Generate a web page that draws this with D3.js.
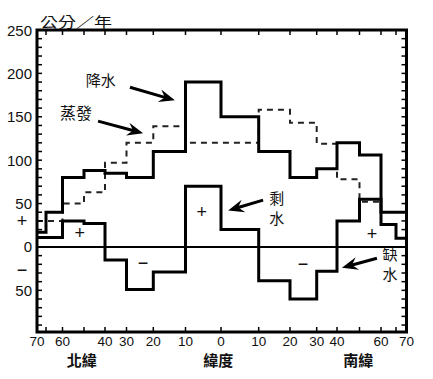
<!DOCTYPE html>
<html>
<head>
<meta charset="utf-8">
<style>
  body { margin: 0; background: #fff; }
  svg { display: block; }
  .num { font-family: "Liberation Sans", Arial, sans-serif; fill: #111; }
  .cjk { font-family: "Noto Sans CJK TC", "Noto Sans CJK JP", sans-serif; fill: #111; }
</style>
</head>
<body>
<svg width="433" height="379"></svg>

<script src="https://d3js.org/d3.v7.min.js"></script>
<script>
    // latitude bin edges, north is positive, south negative
    let edges = [70, 65, 60, 50, 40, 30, 20, 10, 0, -10, -20, -30, -40, -50, -60, -65, -70]

    // cm per year, one value per bin
    let precip = [17, 40, 80, 88, 85, 80, 110, 190, 150, 110, 80, 90, 120, 106, 40, 40]
    let evap = [30, 30, 50, 63, 97, 120, 139, 120, 120, 158, 143, 119, 78, 52, null, null]
    let surplus = [11, 11, 30, 27, -15, -49, -29, 70, 20, -39, -60, -28, 30, 55, 26, 10]

    let latLabels = [70, 60, 40, 30, 20, 10, 0, -10, -20, -30, -40, -60, -70]
    let yLabels = [250, 200, 150, 100, 50, 0, -50]

    let svg = d3.select("svg")

    // the latitude axis in the figure is not even, so a piecewise scale
    let x = d3.scaleLinear()
        .domain(edges)
        .range([37, 46, 62.5, 84, 105, 126.5, 153.3, 185.5, 221, 258.7, 290, 316.7, 337, 359.5, 381, 396, 406.5])

    let y = d3.scaleLinear()
        .domain([-98, 250])
        .range([332, 30])

    let x0 = x(70), x1 = x(-70), yTop = y(250), yBot = y(-98)

    // turn bin values into step points
    function steps(vals) {
        let pts = []
        vals.forEach((v, i) => {
            pts.push({ lat: edges[i], v: v }, { lat: edges[i + 1], v: v })
        })
        return pts
    }

    let line = d3.line()
        .defined(d => d.v != null)
        .x(d => x(d.lat))
        .y(d => y(d.v))

    // zero line
    svg.append("line")
        .attr("x1", x0).attr("x2", x1)
        .attr("y1", y(0)).attr("y2", y(0))
        .style("stroke", "#000")
        .style("stroke-width", 2)

    // evaporation (dashed)
    svg.append("path")
        .attr("d", line(steps(evap)))
        .style("fill", "none")
        .style("stroke", "#222")
        .style("stroke-width", 2)
        .style("stroke-dasharray", "6,5")

    // precipitation and surplus / deficit
    let solid = [precip, surplus]
    svg.append("g")
        .selectAll("path")
        .data(solid)
        .join("path")
        .attr("d", d => line(steps(d)))
        .style("fill", "none")
        .style("stroke", "#000")
        .style("stroke-width", 3)
        .style("stroke-linejoin", "miter")

    // minor ticks on left and right
    let yTicks = d3.range(-90, 250, 10)
    let tickG = svg.append("g").style("stroke", "#000").style("stroke-width", 1.5)
    tickG.selectAll(".yl")
        .data(yTicks)
        .join("line")
        .attr("class", "yl")
        .attr("x1", x0).attr("x2", x0 + 5)
        .attr("y1", d => y(d)).attr("y2", d => y(d))
    tickG.selectAll(".yr")
        .data(yTicks)
        .join("line")
        .attr("class", "yr")
        .attr("x1", x1 - 5).attr("x2", x1)
        .attr("y1", d => y(d)).attr("y2", d => y(d))

    let xTicks = edges.filter(d => Math.abs(d) != 70)
    tickG.selectAll(".xt")
        .data(xTicks)
        .join("line")
        .attr("class", "xt")
        .attr("x1", d => x(d)).attr("x2", d => x(d))
        .attr("y1", yTop).attr("y2", yTop + 5)
    tickG.selectAll(".xb")
        .data(xTicks)
        .join("line")
        .attr("class", "xb")
        .attr("x1", d => x(d)).attr("x2", d => x(d))
        .attr("y1", yBot).attr("y2", yBot - 5)

    // frame
    svg.append("rect")
        .attr("x", x0).attr("y", yTop)
        .attr("width", x1 - x0).attr("height", yBot - yTop)
        .style("fill", "none")
        .style("stroke", "#000")
        .style("stroke-width", 3)

    // y labels
    svg.append("g")
        .selectAll("text")
        .data(yLabels)
        .join("text")
        .attr("class", "num")
        .attr("x", 32)
        .attr("y", d => y(d) + 5.5)
        .attr("text-anchor", "end")
        .attr("font-size", 15)
        .text(d => Math.abs(d))

    let signs = [{ v: 30, t: "+" }, { v: -27, t: "\u2212" }]
    svg.append("g")
        .selectAll("text")
        .data(signs)
        .join("text")
        .attr("class", "num")
        .attr("x", 22)
        .attr("y", d => y(d.v) + 6)
        .attr("text-anchor", "middle")
        .attr("font-size", 18)
        .text(d => d.t)

    // x labels
    svg.append("g")
        .selectAll("text")
        .data(latLabels)
        .join("text")
        .attr("class", "num")
        .attr("x", d => x(d))
        .attr("y", yBot + 14)
        .attr("text-anchor", "middle")
        .attr("font-size", 13.5)
        .text(d => Math.abs(d))

    let zones = [{ lat: 51, t: "北緯" }, { lat: 0.8, t: "緯度" }, { lat: -49.5, t: "南緯" }]
    svg.append("g")
        .selectAll("text")
        .data(zones)
        .join("text")
        .attr("class", "cjk")
        .attr("x", d => x(d.lat))
        .attr("y", yBot + 34)
        .attr("text-anchor", "middle")
        .attr("font-size", 15)
        .attr("font-weight", "bold")
        .text(d => d.t)

    // unit
    svg.append("text")
        .attr("class", "cjk")
        .attr("x", 40)
        .attr("y", 27)
        .attr("font-size", 14)
        .attr("textLength", 72)
        .attr("lengthAdjust", "spacingAndGlyphs")
        .text("公分／年")

    // annotations, in data units
    let notes = [
        { lat: 42, v: 192, t: "降水", s: 15 },
        { lat: 53.7, v: 155, t: "蒸發", s: 16 },
        { lat: -15.8, v: 56, t: "剩", s: 15 },
        { lat: -15.8, v: 33, t: "水", s: 15 },
        { lat: -63, v: -8, t: "缺", s: 15 },
        { lat: -63, v: -31, t: "水", s: 15 }
    ]
    svg.append("g")
        .selectAll("text")
        .data(notes)
        .join("text")
        .attr("class", "cjk")
        .attr("x", d => x(d.lat))
        .attr("y", d => y(d.v) + d.s * 0.38)
        .attr("text-anchor", "middle")
        .attr("font-size", d => d.s)
        .text(d => d.t)

    let marks = [
        { lat: 52, v: 16, t: "+" },
        { lat: 5.4, v: 40, t: "+" },
        { lat: -55.8, v: 15, t: "+" },
        { lat: 23.8, v: -19, t: "\u2212" },
        { lat: -24.9, v: -20, t: "\u2212" }
    ]
    svg.append("g")
        .selectAll("text")
        .data(marks)
        .join("text")
        .attr("class", "num")
        .attr("x", d => x(d.lat))
        .attr("y", d => y(d.v) + 6)
        .attr("text-anchor", "middle")
        .attr("font-size", 18)
        .text(d => d.t)

    let arrows = [
        { from: [28.7, 184], to: [13.3, 169] },
        { from: [43.3, 145], to: [23.8, 131] },
        { from: [-11.4, 54], to: [-1.9, 42] },
        { from: [-58.1, -13], to: [-42.2, -24] }
    ]
    let arrowG = svg.append("g")
    arrows.forEach(a => {
        let fx = x(a.from[0]), fy = y(a.from[1])
        let tx = x(a.to[0]), ty = y(a.to[1])
        let len = Math.hypot(tx - fx, ty - fy)
        let ux = (tx - fx) / len, uy = (ty - fy) / len
        let nx = -uy, ny = ux
        let L = 16, w = 6.5
        arrowG.append("line")
            .attr("x1", fx).attr("y1", fy)
            .attr("x2", tx - ux * L * 0.6).attr("y2", ty - uy * L * 0.6)
            .style("stroke", "#000")
            .style("stroke-width", 3)
        let pts = [
            [tx, ty],
            [tx - ux * L + nx * w, ty - uy * L + ny * w],
            [tx - ux * L * 0.65, ty - uy * L * 0.65],
            [tx - ux * L - nx * w, ty - uy * L - ny * w]
        ]
        arrowG.append("polygon")
            .attr("points", pts.map(p => p.join(",")).join(" "))
            .style("fill", "#000")
    })
</script>
</body>
</html>
